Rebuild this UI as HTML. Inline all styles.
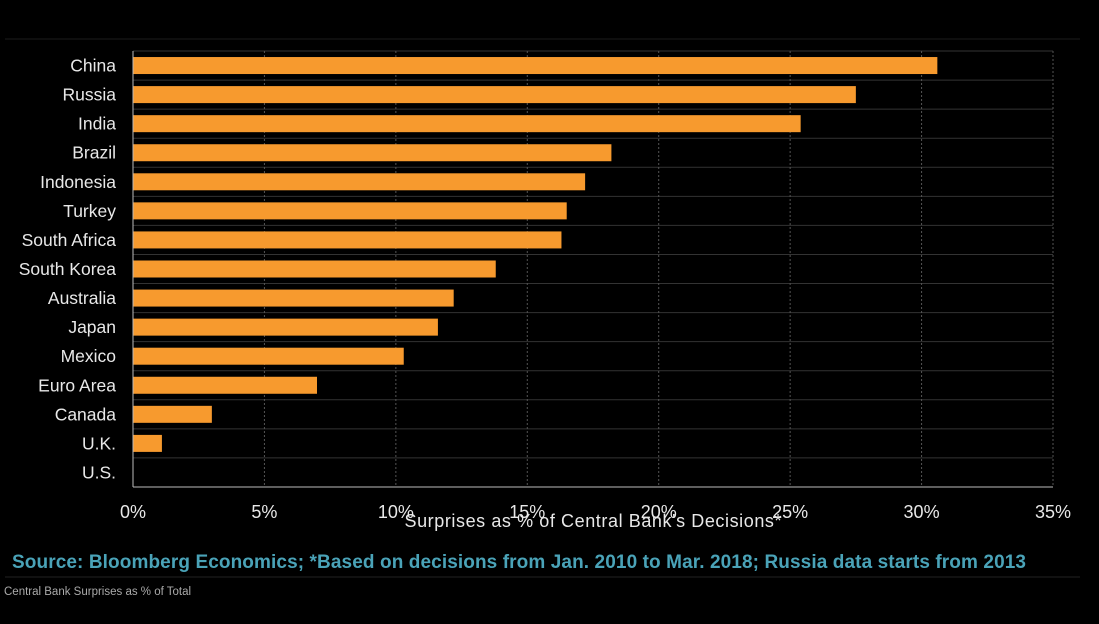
<!DOCTYPE html>
<html><head><meta charset="utf-8"><style>
body{margin:0;background:#000;width:1099px;height:619px;overflow:hidden;font-family:"Liberation Sans",sans-serif}
</style></head><body>
<svg width="1099" height="619">
<line x1="5" y1="39" x2="1080" y2="39" stroke="#1c1c1c"/>
<g id="grid"></g><g id="bars"></g><g id="labels"></g><g id="ticks"></g>
<line x1="133" y1="51" x2="133" y2="487" stroke="#bbb"/>
<line x1="133" y1="487" x2="1053" y2="487" stroke="#bbb"/>
<text x="593" y="527" fill="#e8e8e8" font-size="18" text-anchor="middle" textLength="377">Surprises as % of Central Bank's Decisions*</text>
<text x="12" y="568" fill="#4aa3b8" font-size="19" font-weight="bold" textLength="1014">Source: Bloomberg Economics; *Based on decisions from Jan. 2010 to Mar. 2018; Russia data starts from 2013</text>
<line x1="5" y1="577" x2="1080" y2="577" stroke="#222"/>
<text x="4" y="595" fill="#aaa" font-size="11.5">Central Bank Surprises as % of Total</text>
</svg>
<script>
const categories=["China","Russia","India","Brazil","Indonesia","Turkey","South Africa","South Korea","Australia","Japan","Mexico","Euro Area","Canada","U.K.","U.S."];
const values=[30.6,27.5,25.4,18.2,17.2,16.5,16.3,13.8,12.2,11.6,10.3,7.0,3.0,1.1,0];
const tickValues=[0,5,10,15,20,25,30,35];
const tickLabels=["0%","5%","10%","15%","20%","25%","30%","35%"];
const NS="http://www.w3.org/2000/svg";
const plotX0=133,plotX1=1053,plotTop=51,plotBot=487,xmax=35;
const rowH=(plotBot-plotTop)/categories.length;
const xs=v=>plotX0+(v/xmax)*(plotX1-plotX0);
const ys=i=>plotTop+i*rowH;
function mk(t,a,p){const e=document.createElementNS(NS,t);for(const k in a)e.setAttribute(k,a[k]);document.getElementById(p).appendChild(e);return e;}
for(let i=0;i<=categories.length;i++){
 const l=mk("line",{x1:plotX0,x2:plotX1,y1:ys(i),y2:ys(i),stroke:"#333"},"grid");
 
 
}
tickValues.forEach((v,i)=>{
 if(v>0){const l=mk("line",{x1:xs(v),x2:xs(v),y1:plotTop,y2:plotBot,stroke:"#555","stroke-dasharray":"2,2"},"grid");
 
 }
 const t=mk("text",{x:xs(v),y:518,fill:"#e8e8e8","font-size":18,"text-anchor":"middle"},"ticks");
 t.textContent=tickLabels[i];
 
 
});
categories.forEach((c,i)=>{
 const yc=ys(i)+rowH/2;
 if(values[i]>0){const r=mk("rect",{x:plotX0,y:yc-8.5,width:xs(values[i])-plotX0,height:17,fill:"#f79a2e"},"bars");
 
 }
 const t=mk("text",{x:116,y:yc+6,fill:"#e8e8e8","font-size":17.5,"text-anchor":"end"},"labels");
 t.textContent=c;
 
 
});
</script>
</body></html>
